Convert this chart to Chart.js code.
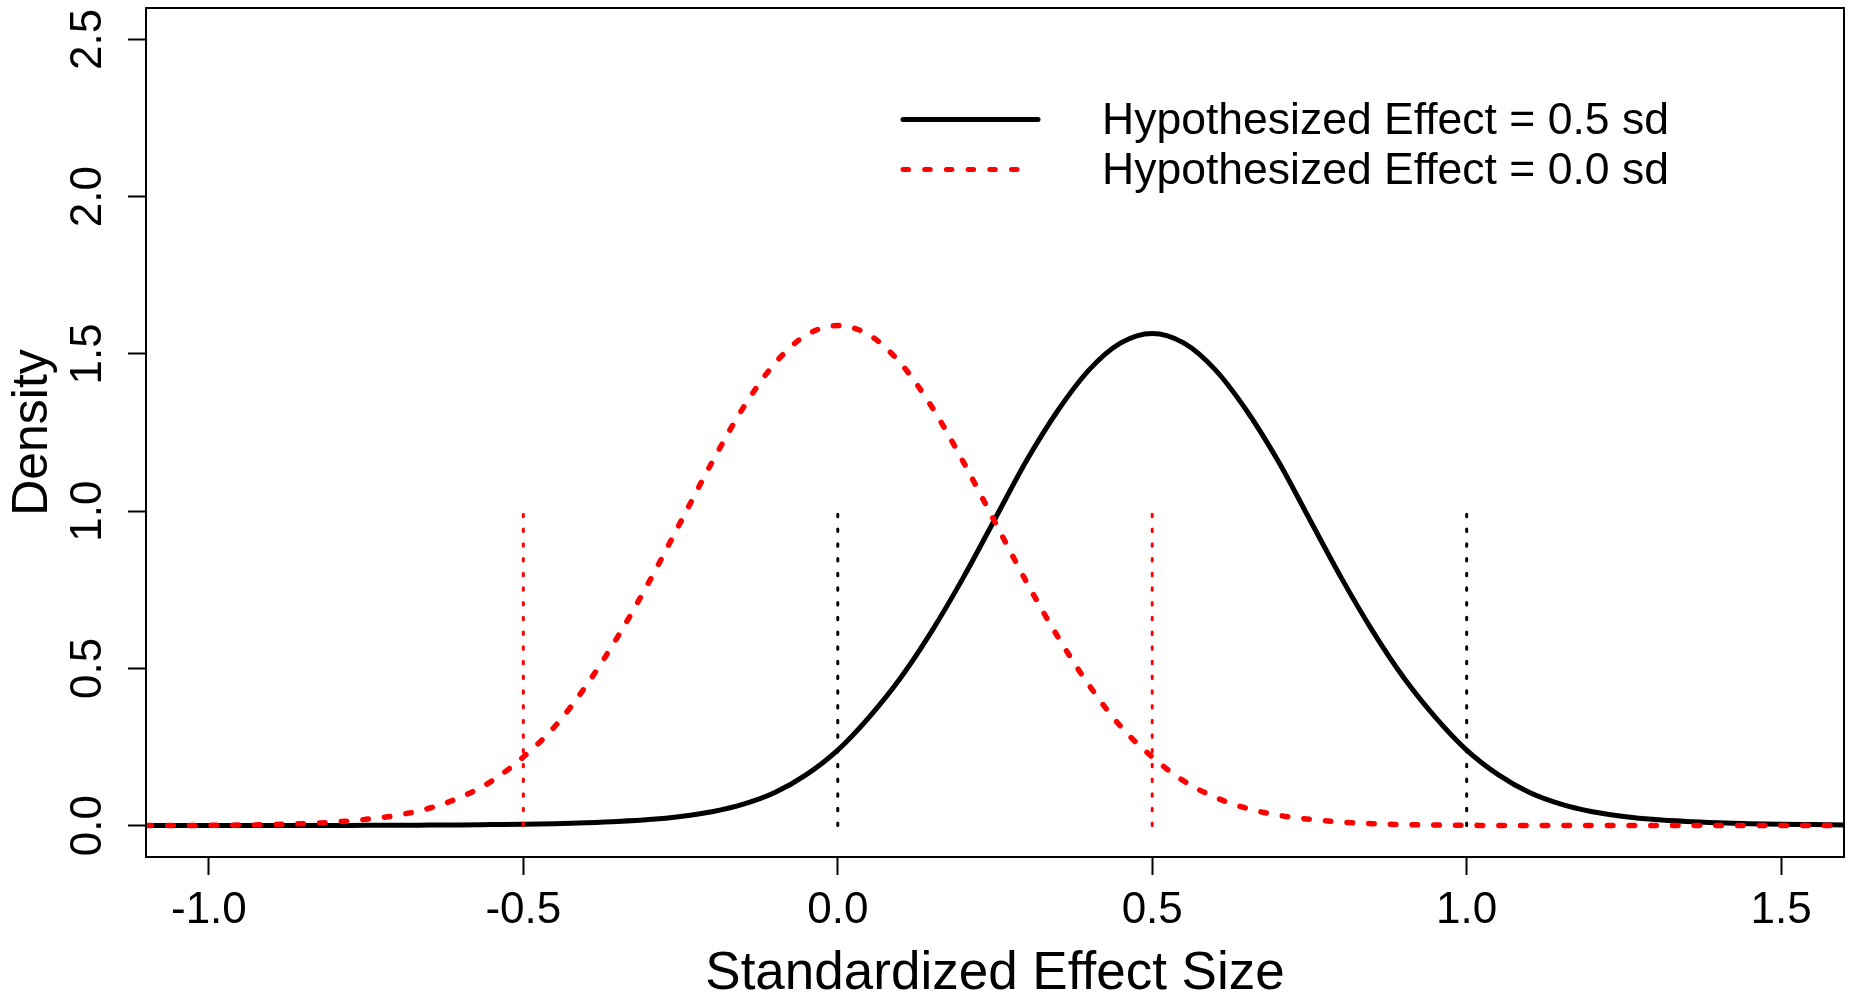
<!DOCTYPE html>
<html>
<head>
<meta charset="utf-8">
<script src="https://cdn.jsdelivr.net/npm/chart.js@4/dist/chart.umd.min.js"></script>
<style>
  html, body { margin: 0; padding: 0; background: #fff; }
  canvas { display: block; }
</style>
</head>
<body>
<canvas id="canvas1" width="1857" height="998"></canvas>
<script>
// effect sizes where the densities were read
const effectSizes = [-1.1, -1.05, -1.0, -0.95, -0.9, -0.85, -0.8, -0.75, -0.7, -0.65, -0.6, -0.55,
  -0.5, -0.45, -0.4, -0.35, -0.3, -0.25, -0.2, -0.15, -0.1, -0.05, 0, 0.05, 0.1, 0.15, 0.2, 0.25,
  0.3, 0.35, 0.4, 0.45, 0.5, 0.55, 0.6, 0.65, 0.7, 0.75, 0.8, 0.85, 0.9, 0.95, 1.0, 1.05, 1.1,
  1.15, 1.2, 1.25, 1.3, 1.35, 1.4, 1.45, 1.5, 1.55, 1.6];

// hypothesized effect = 0.5 sd (black, solid)
const densityHalf = [0, 0, 0, 0, 0, 0, 0, 0.001, 0.001, 0.0015, 0.002, 0.003,
  0.004, 0.006, 0.009, 0.013, 0.019, 0.029, 0.044, 0.068, 0.105, 0.162, 0.24, 0.345, 0.47, 0.62, 0.79, 0.975,
  1.16, 1.32, 1.45, 1.535, 1.565, 1.535, 1.45, 1.32, 1.16, 0.975, 0.79, 0.62, 0.47, 0.345, 0.24, 0.162, 0.105,
  0.068, 0.044, 0.029, 0.019, 0.013, 0.009, 0.006, 0.004, 0.003, 0.002];

// hypothesized effect = 0.0 sd (red, dotted)
const densityZero = [0, 0, 0.001, 0.0015, 0.003, 0.006, 0.011, 0.02, 0.033, 0.055, 0.09, 0.142,
  0.218, 0.315, 0.445, 0.6, 0.775, 0.965, 1.155, 1.33, 1.47, 1.56, 1.59, 1.56, 1.47, 1.33, 1.155, 0.965,
  0.775, 0.6, 0.445, 0.315, 0.218, 0.142, 0.09, 0.055, 0.033, 0.02, 0.011, 0.006, 0.003, 0.0015, 0.001, 0, 0,
  0, 0, 0, 0, 0, 0, 0, 0, 0, 0];

// cut-off markers: x position, height
const redCutoffs = [-0.5, 0.5];
const blackCutoffs = [0.0, 1.0];
const cutoffHeight = 1.0;

const seriesLabels = ["Hypothesized Effect = 0.5 sd", "Hypothesized Effect = 0.0 sd"];
const xTicks = [-1.0, -0.5, 0.0, 0.5, 1.0, 1.5];
const yTicks = [0.0, 0.5, 1.0, 1.5, 2.0, 2.5];

const FONT = "'Liberation Sans', Arial, Helvetica, sans-serif";
const RED = "#ff0000";

function toPoints(ys) {
  return effectSizes.map((x, i) => ({ x: x, y: ys[i] }));
}

function cutoffSet(xs, color) {
  return xs.map(x => ({
    data: [{ x: x, y: 0 }, { x: x, y: cutoffHeight }],
    borderColor: color,
    borderWidth: 3,
    borderDash: [2.5, 12.2],
    borderCapStyle: "round",
    pointRadius: 0,
    order: 0
  }));
}

// box, rotated y labels and the legend, the way R's base graphics draw them
const rStyle = {
  id: "rStyle",
  afterDraw(chart) {
    const ctx = chart.ctx;
    const a = chart.chartArea;
    ctx.save();
    ctx.strokeStyle = "#000";
    ctx.lineWidth = 2;
    ctx.strokeRect(a.left, a.top, a.right - a.left, a.bottom - a.top);

    const ys = chart.scales.y;
    ctx.fillStyle = "#000";
    ctx.font = "44px " + FONT;
    ctx.textAlign = "center";
    ctx.textBaseline = "alphabetic";
    ys.ticks.forEach(t => {
      const py = ys.getPixelForValue(t.value);
      ctx.save();
      ctx.translate(101, py);
      ctx.rotate(-Math.PI / 2);
      ctx.fillText(t.value.toFixed(1), 0, 0);
      ctx.restore();
    });

    // legend
    const lx = 903, lx2 = 1038, ly = 119.5, gap = 50;
    ctx.lineCap = "round";
    ctx.lineWidth = 5;
    ctx.strokeStyle = "#000";
    ctx.beginPath();
    ctx.moveTo(lx, ly);
    ctx.lineTo(lx2, ly);
    ctx.stroke();
    ctx.strokeStyle = RED;
    ctx.setLineDash([5.5, 16.2]);
    ctx.beginPath();
    ctx.moveTo(lx, ly + gap);
    ctx.lineTo(lx2 - 10, ly + gap);
    ctx.stroke();
    ctx.setLineDash([]);
    ctx.font = "44.5px " + FONT;
    ctx.textAlign = "left";
    ctx.textBaseline = "middle";
    ctx.fillStyle = "#000";
    ctx.fillText(seriesLabels[0], 1102, ly + 2);
    ctx.fillText(seriesLabels[1], 1102, ly + gap + 2);
    ctx.restore();
  }
};

window.onload = function () {
  let ctx1 = document.getElementById("canvas1").getContext("2d");
  new Chart(ctx1, {
    type: "line",
    data: {
      datasets: [
        {
          label: seriesLabels[0],
          data: toPoints(densityHalf),
          borderColor: "#000",
          borderWidth: 5,
          pointRadius: 0,
          cubicInterpolationMode: "monotone",
          order: 2
        },
        {
          label: seriesLabels[1],
          data: toPoints(densityZero),
          borderColor: RED,
          borderWidth: 5.5,
          borderDash: [5.5, 16.2],
          borderCapStyle: "round",
          pointRadius: 0,
          cubicInterpolationMode: "monotone",
          order: 1
        },
        ...cutoffSet(redCutoffs, RED),
        ...cutoffSet(blackCutoffs, "#000")
      ]
    },
    options: {
      responsive: false,
      animation: false,
      layout: { padding: { left: 0, top: 8, right: 13, bottom: 0 } },
      plugins: {
        legend: { display: false },
        tooltip: { enabled: false },
        title: { display: false }
      },
      scales: {
        x: {
          type: "linear",
          min: -1.1,
          max: 1.6,
          afterBuildTicks: s => { s.ticks = xTicks.map(v => ({ value: v })); },
          afterFit: s => { s.height = 141; },
          border: { display: false },
          grid: { drawOnChartArea: false, drawTicks: true, tickLength: 18, tickColor: "#000", tickWidth: 2 },
          ticks: {
            autoSkip: false,
            maxRotation: 0,
            color: "#000",
            padding: 9,
            font: { family: FONT, size: 44 },
            callback: v => v.toFixed(1)
          },
          title: {
            display: true,
            text: "Standardized Effect Size",
            color: "#000",
            font: { family: FONT, size: 53, lineHeight: 0.9 },
            padding: { top: 0, bottom: 0 }
          }
        },
        y: {
          min: -0.1,
          max: 2.6,
          afterBuildTicks: s => { s.ticks = yTicks.map(v => ({ value: v })); },
          afterFit: s => { s.width = 146; },
          border: { display: false },
          grid: { drawOnChartArea: false, drawTicks: true, tickLength: 18, tickColor: "#000", tickWidth: 2 },
          ticks: { display: false },
          title: {
            display: true,
            text: "Density",
            color: "#000",
            font: { family: FONT, size: 50 },
            padding: { top: 3, bottom: 0 }
          }
        }
      }
    },
    plugins: [rStyle]
  });
};
</script>
</body>
</html>
